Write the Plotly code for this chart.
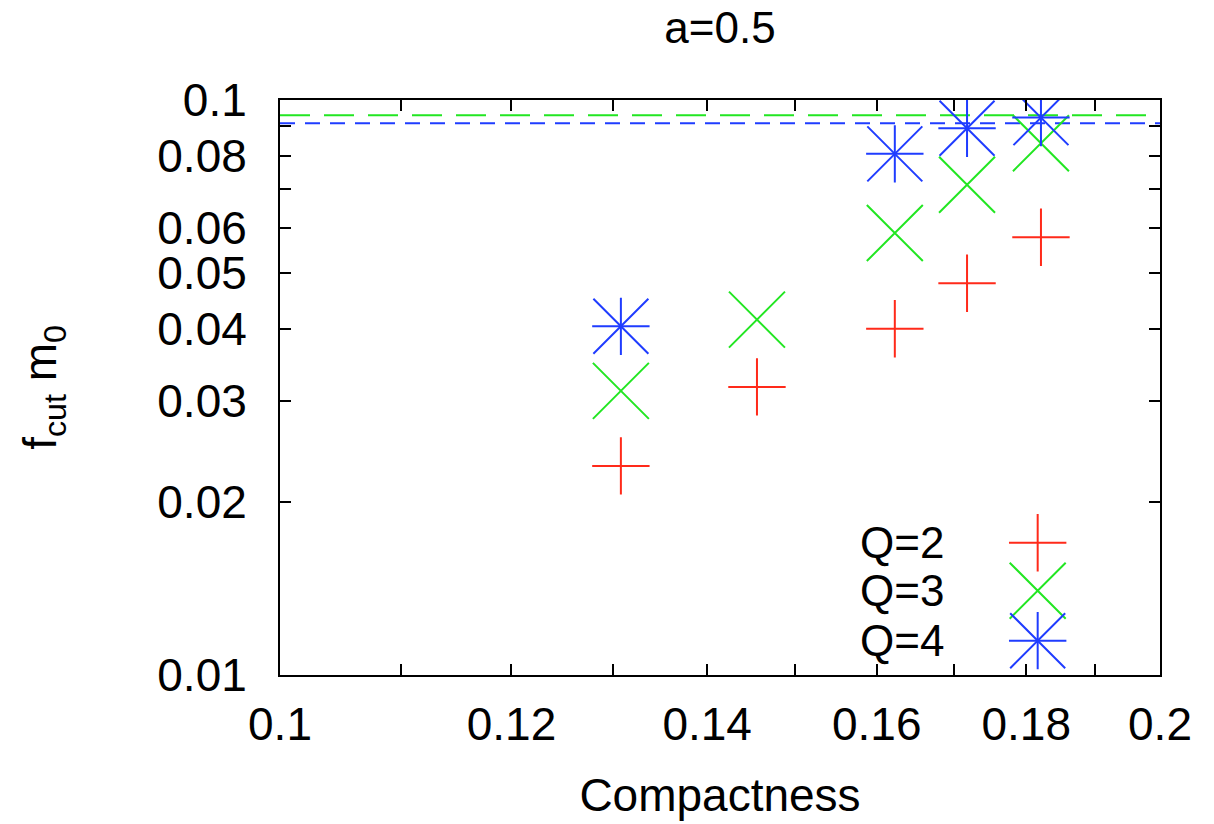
import plotly.graph_objects as go

# ---- data ----
compactness = [0.1308, 0.1456, 0.1623, 0.1718, 0.1821]
q2_vals = [0.0231, 0.0317, 0.0400, 0.0480, 0.0577]
q3_vals = [0.0312, 0.0415, 0.0587, 0.0712, 0.0841]
q4_x = [0.1308, 0.1623, 0.1718, 0.1821]
q4_vals = [0.0404, 0.0806, 0.0893, 0.0932]
green_level = 0.0941
blue_level = 0.0911
x_range = [0.1, 0.2]
y_range = [0.01, 0.1]
x_tickvals = [0.1, 0.11, 0.12, 0.13, 0.14, 0.15, 0.16, 0.17, 0.18, 0.19, 0.2]
x_ticktext = ["0.1", "", "0.12", "", "0.14", "", "0.16", "", "0.18", "", "0.2"]
y_tickvals = [0.01, 0.02, 0.03, 0.04, 0.05, 0.06, 0.07, 0.08, 0.09, 0.1]
y_ticktext = ["0.01", "0.02", "0.03", "0.04", "0.05", "0.06", "", "0.08", "", "0.1"]
legend_labels = ["Q=2", "Q=3", "Q=4"]

RED = "#ff2a1a"
GREEN = "#22e622"
BLUE = "#1f3cff"
FONT = "Liberation Sans, Arial, Helvetica, sans-serif"

fig = go.Figure()

# horizontal reference levels
fig.add_trace(go.Scatter(x=x_range, y=[green_level, green_level], mode="lines",
                         line=dict(color=GREEN, width=2, dash="30px,14px"),
                         showlegend=False, hoverinfo="skip"))
fig.add_trace(go.Scatter(x=x_range, y=[blue_level, blue_level], mode="lines",
                         line=dict(color=BLUE, width=2, dash="15px,10px"),
                         showlegend=False, hoverinfo="skip"))


def mk(symbol, size, color):
    return dict(symbol=symbol, size=size, color=color,
                line=dict(color=color, width=2))


fig.add_trace(go.Scatter(x=compactness, y=q2_vals, mode="markers",
                         marker=mk("cross-thin", 41, RED), showlegend=False))
fig.add_trace(go.Scatter(x=compactness, y=q3_vals, mode="markers",
                         marker=mk("x-thin", 56, GREEN), showlegend=False))
fig.add_trace(go.Scatter(x=q4_x, y=q4_vals, mode="markers",
                         marker=mk("cross-thin", 41, BLUE), showlegend=False))
fig.add_trace(go.Scatter(x=q4_x, y=q4_vals, mode="markers",
                         marker=mk("x-thin", 55, BLUE), showlegend=False))

# legend keys drawn on an overlay axis in plot-fraction coordinates
key_x = 0.861
key_y = [0.230, 0.1466, 0.0597]
key_markers = [("cross-thin", 41, RED), ("x-thin", 56, GREEN),
               ("cross-thin", 41, BLUE), ("x-thin", 55, BLUE)]
key_rows = [0, 1, 2, 2]
for (sym, sz, col), row in zip(key_markers, key_rows):
    fig.add_trace(go.Scatter(x=[key_x], y=[key_y[row]], mode="markers",
                             marker=mk(sym, sz, col), xaxis="x2", yaxis="y2",
                             showlegend=False, hoverinfo="skip"))
for lab, ky in zip(legend_labels, key_y):
    fig.add_annotation(x=0.757, y=ky, xref="paper", yref="paper",
                       text=lab, showarrow=False, xanchor="right", yanchor="middle",
                       font=dict(size=44, color="black", family=FONT))

axis_common = dict(showline=True, linecolor="black", linewidth=2, mirror="ticks",
                   ticks="inside", ticklen=11, tickwidth=2, tickcolor="black",
                   showgrid=False, zeroline=False, automargin=False,
                   tickfont=dict(size=46, color="black", family=FONT))

fig.update_layout(
    width=1214, height=824,
    margin=dict(l=280, r=54, t=100, b=149),
    paper_bgcolor="white", plot_bgcolor="white",
    title=dict(text="a=0.5", x=(280 + 880 / 2) / 1214, xanchor="center",
               y=1 - 28 / 824, yanchor="middle", yref="container",
               font=dict(size=44, color="black", family=FONT)),
    xaxis=dict(type="log", range=[-1, -0.69897], tickvals=x_tickvals, ticktext=x_ticktext,
               title=dict(text="Compactness", standoff=30,
                          font=dict(size=46, color="black", family=FONT)),
               ticklabelstandoff=8, **axis_common),
    yaxis=dict(type="log", range=[-2, -1], tickvals=y_tickvals, ticktext=y_ticktext,
               title=dict(text="f<sub>cut</sub> m<sub>0</sub>", standoff=86,
                          font=dict(size=46, color="black", family=FONT)),
               ticklabelstandoff=22, **axis_common),
    xaxis2=dict(range=[0, 1], overlaying="x", visible=False, fixedrange=True),
    yaxis2=dict(range=[0, 1], overlaying="y", visible=False, fixedrange=True),
    font=dict(family=FONT, color="black"),
)

fig.write_html("out.html")
